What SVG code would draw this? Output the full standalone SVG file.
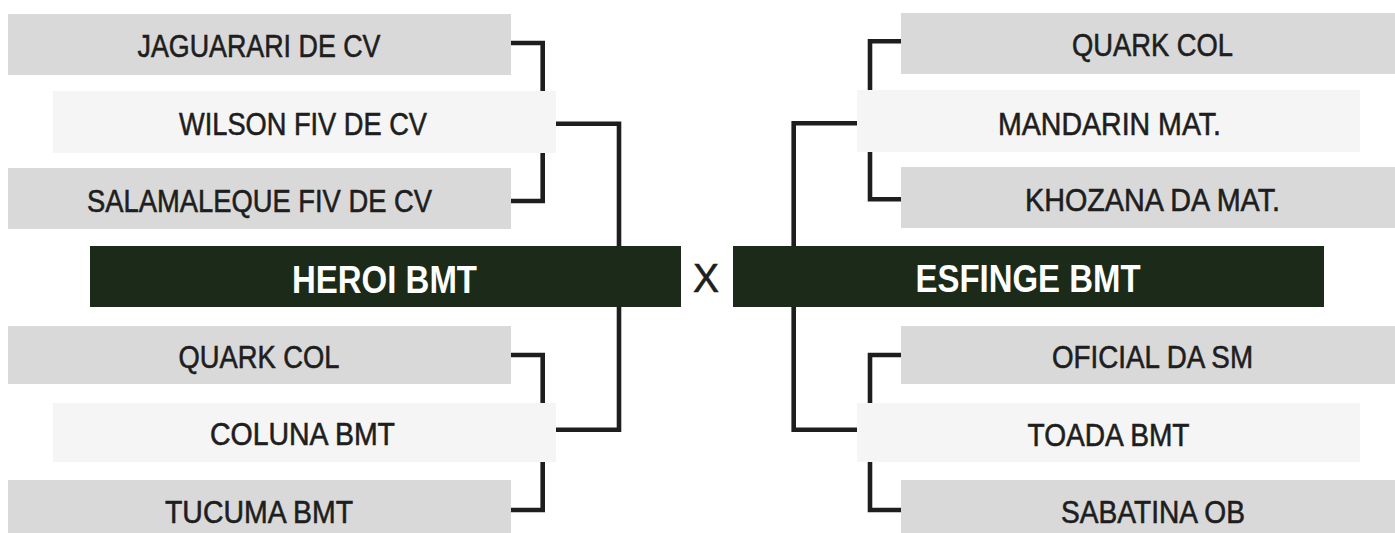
<svg xmlns="http://www.w3.org/2000/svg" width="1395" height="533" viewBox="0 0 1395 533">
<style>
.g{fill:#d9d9d9}
.l{fill:#f5f5f5}
.d{fill:#1c2b19}
.t{font-family:"Liberation Sans",Arial,sans-serif;font-size:32px;fill:#1e1e1e;stroke:#1e1e1e;stroke-width:0.6;text-anchor:middle}
.b{font-family:"Liberation Sans",Arial,sans-serif;font-size:38px;font-weight:bold;fill:#fff;text-anchor:middle}
.c{fill:none;stroke:#1e1e1e;stroke-width:4.6;stroke-linejoin:miter;stroke-linecap:butt}
</style>
<rect width="1395" height="533" fill="#fff"/>
<g id="connectors" class="c">
<path d="M511,43 H542.7 V201 H511"/>
<path d="M556,123.7 H619 V429.7 H556"/>
<path d="M511,355 H542.7 V510 H511"/>
<path d="M901,41.3 H870 V199.3 H901"/>
<path d="M857,123.3 H793.7 V429.7 H857"/>
<path d="M901,355 H870 V510 H901"/>
</g>
<g id="n-jaguarari"><rect class="g" x="8" y="14" width="503" height="61"/><text class="t" x="259" y="56.5" textLength="243" lengthAdjust="spacingAndGlyphs">JAGUARARI DE CV</text></g>
<g id="n-wilson"><rect class="l" x="53" y="91" width="503" height="62"/><text class="t" x="303" y="134.5" textLength="248" lengthAdjust="spacingAndGlyphs">WILSON FIV DE CV</text></g>
<g id="n-salamaleque"><rect class="g" x="8" y="168" width="503" height="61"/><text class="t" x="259.5" y="212" textLength="345" lengthAdjust="spacingAndGlyphs">SALAMALEQUE FIV DE CV</text></g>
<g id="n-heroi"><rect class="d" x="90" y="246" width="591" height="61"/><text class="b" x="384.5" y="292.5" textLength="185" lengthAdjust="spacingAndGlyphs">HEROI BMT</text></g>
<g id="n-quark-l"><rect class="g" x="8" y="326" width="503" height="58"/><text class="t" x="259" y="368" textLength="161" lengthAdjust="spacingAndGlyphs">QUARK COL</text></g>
<g id="n-coluna"><rect class="l" x="53" y="403" width="503" height="59"/><text class="t" x="302.5" y="445" textLength="185" lengthAdjust="spacingAndGlyphs">COLUNA BMT</text></g>
<g id="n-tucuma"><rect class="g" x="8" y="480" width="503" height="60"/><text class="t" x="259" y="523" textLength="188" lengthAdjust="spacingAndGlyphs">TUCUMA BMT</text></g>
<g id="vs"><text class="t" x="706" y="292" textLength="26" lengthAdjust="spacingAndGlyphs" style="font-size:40px">X</text></g>
<g id="n-quark-r"><rect class="g" x="901" y="13" width="503" height="61"/><text class="t" x="1152.5" y="56" textLength="161" lengthAdjust="spacingAndGlyphs">QUARK COL</text></g>
<g id="n-mandarin"><rect class="l" x="857" y="90" width="503" height="62"/><text class="t" x="1109.5" y="134.5" textLength="223" lengthAdjust="spacingAndGlyphs">MANDARIN MAT.</text></g>
<g id="n-khozana"><rect class="g" x="901" y="167" width="503" height="61"/><text class="t" x="1152.5" y="211" textLength="255" lengthAdjust="spacingAndGlyphs">KHOZANA DA MAT.</text></g>
<g id="n-esfinge"><rect class="d" x="733" y="246" width="591" height="61"/><text class="b" x="1028" y="292" textLength="225" lengthAdjust="spacingAndGlyphs">ESFINGE BMT</text></g>
<g id="n-oficial"><rect class="g" x="901" y="326" width="503" height="58"/><text class="t" x="1152.5" y="368" textLength="201" lengthAdjust="spacingAndGlyphs">OFICIAL DA SM</text></g>
<g id="n-toada"><rect class="l" x="857" y="403" width="503" height="59"/><text class="t" x="1108.5" y="445.5" textLength="162" lengthAdjust="spacingAndGlyphs">TOADA BMT</text></g>
<g id="n-sabatina"><rect class="g" x="901" y="480" width="503" height="60"/><text class="t" x="1153" y="523" textLength="184" lengthAdjust="spacingAndGlyphs">SABATINA OB</text></g>
</svg>
